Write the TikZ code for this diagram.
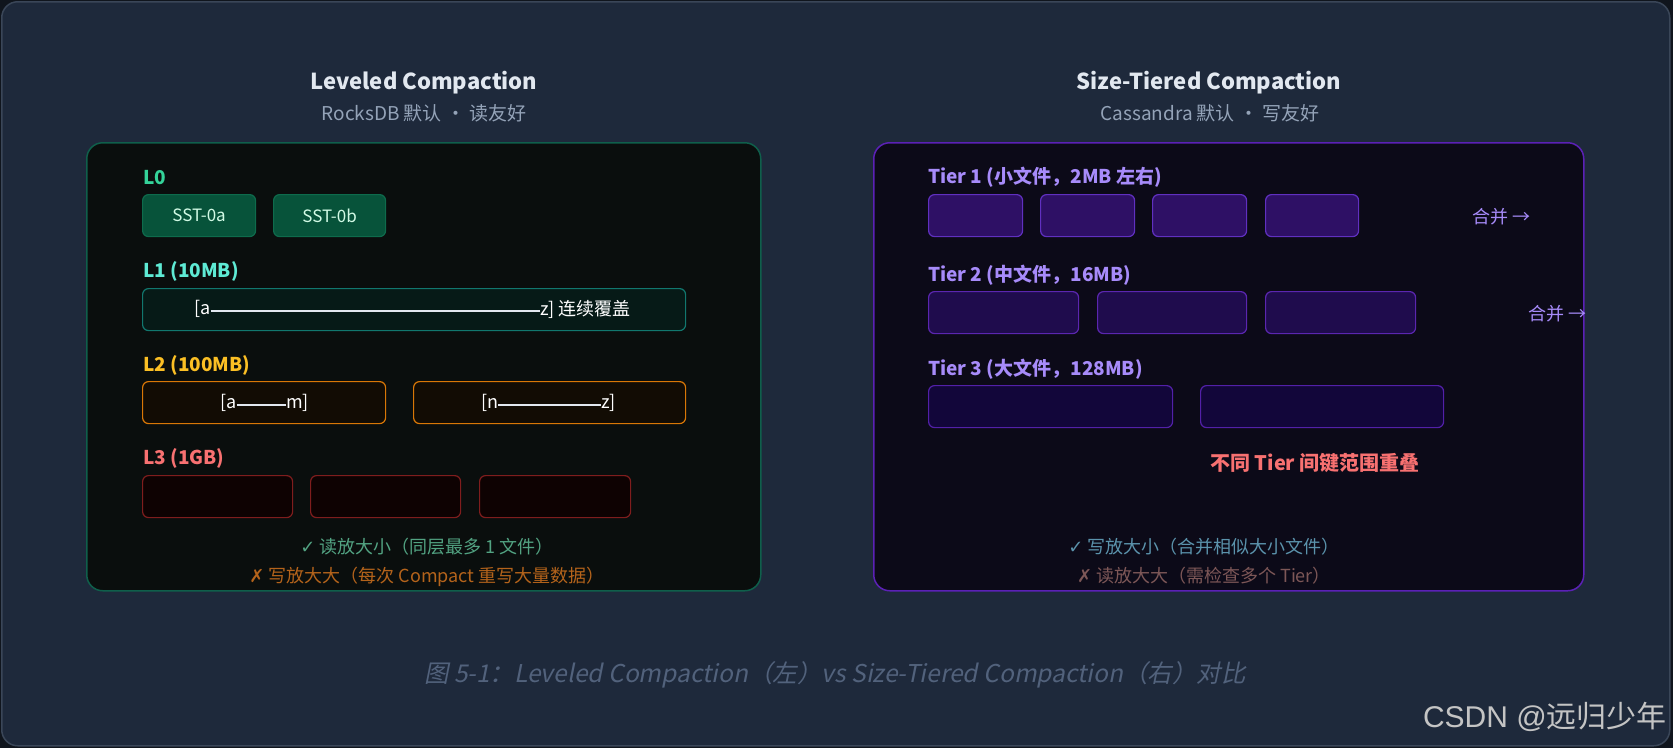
\documentclass[tikz,border=0pt]{standalone}
\usepackage{fontspec}
\setmainfont{Noto Sans CJK SC}
\newfontfamily\capfont{Noto Sans CJK SC}[FakeSlant=0.2]
\newfontfamily\symfont{DejaVu Sans}
\newfontfamily\wmfont{Liberation Sans}
\newcommand{\fs}[1]{\fontsize{#1}{#1}\selectfont}
\definecolor{outside}{HTML}{10151D}
\definecolor{bgc}{HTML}{1E293B}
\definecolor{bgborder}{HTML}{3A4658}
\definecolor{titlec}{HTML}{E2E8F0}
\definecolor{subc}{HTML}{94A3B8}
\definecolor{lpfill}{HTML}{0A0E0D}
\definecolor{lpdraw}{HTML}{0F5F4B}
\definecolor{rpfill}{HTML}{0C0A18}
\definecolor{rpdraw}{HTML}{5B21B6}
\definecolor{lzero}{HTML}{34D399}
\definecolor{sstfill}{HTML}{07533A}
\definecolor{sstdraw}{HTML}{0E6B4C}
\definecolor{ssttxt}{HTML}{D1FAE5}
\definecolor{lone}{HTML}{5EEAD4}
\definecolor{lonefill}{HTML}{061A17}
\definecolor{lonedraw}{HTML}{11776E}
\definecolor{ltwo}{HTML}{FBBF24}
\definecolor{ltwofill}{HTML}{120C04}
\definecolor{ltwodraw}{HTML}{D97706}
\definecolor{lthree}{HTML}{F87171}
\definecolor{lthreefill}{HTML}{0E0202}
\definecolor{lthreedraw}{HTML}{7F1D1D}
\definecolor{tierc}{HTML}{A78BFA}
\definecolor{tonefill}{HTML}{2E1065}
\definecolor{tonedraw}{HTML}{6030C0}
\definecolor{ttwofill}{HTML}{1F0C4D}
\definecolor{ttwodraw}{HTML}{5B26B0}
\definecolor{tthreefill}{HTML}{12063A}
\definecolor{tthreedraw}{HTML}{5220A8}
\definecolor{redc}{HTML}{F87171}
\definecolor{lgood}{HTML}{52A382}
\definecolor{lbad}{HTML}{B4631B}
\definecolor{rgood}{HTML}{5B93AC}
\definecolor{rbad}{HTML}{7D5757}
\definecolor{capc}{HTML}{52627C}
\definecolor{wmc}{HTML}{C4C4C4}
\definecolor{linec}{HTML}{E2E8F0}
\begin{document}
\begin{tikzpicture}[x=1pt,y=-1pt,
  titlestyle/.style={font=\fs{22}\bfseries, text=titlec, anchor=base, inner sep=0},
  substyle/.style={font=\fs{19}, text=subc, anchor=base, inner sep=0},
  lbl/.style={font=\fs{19}\bfseries, anchor=base west, inner sep=0},
  fbox/.style={draw, rounded corners=6pt, line width=1.2pt, minimum height=42pt, inner sep=0, anchor=north west},
  panel/.style={draw, rounded corners=16pt, line width=1.5pt, anchor=north west, inner sep=0},
  note/.style={font=\fs{18}, anchor=base, inner sep=0},
  btxt/.style={font=\fs{18}, text=white, inner sep=0},
  rangeline/.style={draw=linec, line width=1.5pt},
]
\useasboundingbox (0,0) rectangle (1673,748);
\fill[outside] (0,0) rectangle (1673,748);
\node[panel, fill=bgc, draw=bgborder, minimum width=1668pt, minimum height=744pt] (bg) at (1,1) {};

% titles
\node[titlestyle] (ltitle) at (424,89) {Leveled Compaction};
\node[substyle] (lsub) at (424,120) {RocksDB 默认 · 读友好};
\node[titlestyle] (rtitle) at (1209,89) {Size-Tiered Compaction};
\node[substyle] (rsub) at (1210,120) {Cassandra 默认 · 写友好};

% panels
\node[panel, fill=lpfill, draw=lpdraw, minimum width=674pt, minimum height=448pt] (lp) at (86,142) {};
\node[panel, fill=rpfill, draw=rpdraw, minimum width=710pt, minimum height=448pt] (rp) at (873,142) {};

% L0
\node[lbl, text=lzero] (lab0) at (143,184) {L0};
\node[fbox, fill=sstfill, draw=sstdraw, minimum width=113pt, text=ssttxt, font=\fs{17}] (s0a) at (142,194) {SST-0a};
\node[fbox, fill=sstfill, draw=sstdraw, minimum width=112pt, text=ssttxt, font=\fs{17}] (s0b) at (273,194) {SST-0b};

% L1
\node[lbl, text=lone] (lab1) at (143,277) {L1 (10MB)};
\node[fbox, fill=lonefill, draw=lonedraw, minimum width=543pt] (l1) at (142,288) {};
\node[btxt, anchor=west] (l1a) at (194,309) {[a};
\node[btxt, anchor=west] (l1z) at (540,309) {z] 连续覆盖};
\draw[rangeline] ([yshift=-2pt]l1a.east) -- ([yshift=-2pt]l1a.east -| l1z.west);

% L2
\node[lbl, text=ltwo] (lab2) at (143,371) {L2 (100MB)};
\node[fbox, fill=ltwofill, draw=ltwodraw, minimum width=243pt] (l2a) at (142,381) {};
\node[fbox, fill=ltwofill, draw=ltwodraw, minimum width=272pt] (l2b) at (413,381) {};
\node[btxt, anchor=west] (l2aa) at (220,403) {[a};
\node[btxt, anchor=east] (l2am) at (309,403) {m]};
\draw[rangeline] ([yshift=-2pt]l2aa.east) -- ([yshift=-2pt]l2aa.east -| l2am.west);
\node[btxt, anchor=west] (l2bn) at (481,403) {[n};
\node[btxt, anchor=east] (l2bz) at (616,403) {z]};
\draw[rangeline] ([yshift=-2pt]l2bn.east) -- ([yshift=-2pt]l2bn.east -| l2bz.west);

% L3
\node[lbl, text=lthree] (lab3) at (143,464) {L3 (1GB)};
\node[fbox, fill=lthreefill, draw=lthreedraw, minimum width=150pt] (l3a) at (142,475) {};
\node[fbox, fill=lthreefill, draw=lthreedraw, minimum width=150pt] (l3b) at (310,475) {};
\node[fbox, fill=lthreefill, draw=lthreedraw, minimum width=151pt] (l3c) at (479,475) {};

\node[note, text=lgood] (lgoodn) at (427,553) {{\symfont ✓} 读放大小（同层最多 1 文件）};
\node[note, text=lbad] (lbadn) at (427,582) {{\symfont ✗} 写放大大（每次 Compact 重写大量数据）};

% Tier 1
\node[lbl, text=tierc] (t1l) at (928,183) {Tier 1 (小文件，2MB 左右)};
\node[fbox, fill=tonefill, draw=tonedraw, minimum width=94pt] (t1a) at (928,194) {};
\node[fbox, fill=tonefill, draw=tonedraw, minimum width=94pt] (t1b) at (1040,194) {};
\node[fbox, fill=tonefill, draw=tonedraw, minimum width=94pt] (t1c) at (1152,194) {};
\node[fbox, fill=tonefill, draw=tonedraw, minimum width=93pt] (t1d) at (1265,194) {};
\node[note, anchor=base west, text=tierc] (m1) at (1472,223) {合并 →};

% Tier 2
\node[lbl, text=tierc] (t2l) at (928,281) {Tier 2 (中文件，16MB)};
\node[fbox, fill=ttwofill, draw=ttwodraw, minimum width=150pt] (t2a) at (928,291) {};
\node[fbox, fill=ttwofill, draw=ttwodraw, minimum width=149pt] (t2b) at (1097,291) {};
\node[fbox, fill=ttwofill, draw=ttwodraw, minimum width=150pt] (t2c) at (1265,291) {};
\node[note, anchor=base west, text=tierc] (m2) at (1528,320) {合并 →};

% Tier 3
\node[lbl, text=tierc] (t3l) at (928,375) {Tier 3 (大文件，128MB)};
\node[fbox, fill=tthreefill, draw=tthreedraw, minimum width=244pt] (t3a) at (928,385) {};
\node[fbox, fill=tthreefill, draw=tthreedraw, minimum width=243pt] (t3b) at (1200,385) {};

\node[note, font=\fs{20}\bfseries, text=redc] (overlap) at (1315,470) {不同 Tier 间键范围重叠};

\node[note, text=rgood] (rgoodn) at (1204,553) {{\symfont ✓} 写放大小（合并相似大小文件）};
\node[note, text=rbad] (rbadn) at (1204,582) {{\symfont ✗} 读放大大（需检查多个 Tier）};

% caption
\node[anchor=base, inner sep=0, text=capc, font=\capfont\fs{24.5}] (cap) at (835,682) {图 5-1：Leveled Compaction（左）vs Size-Tiered Compaction（右）对比};

% watermark
\node[anchor=base east, inner sep=0, text=wmc, font=\fs{30}] (wm) at (1667,727) {{\wmfont CSDN @}远归少年};
\end{tikzpicture}
\end{document}
